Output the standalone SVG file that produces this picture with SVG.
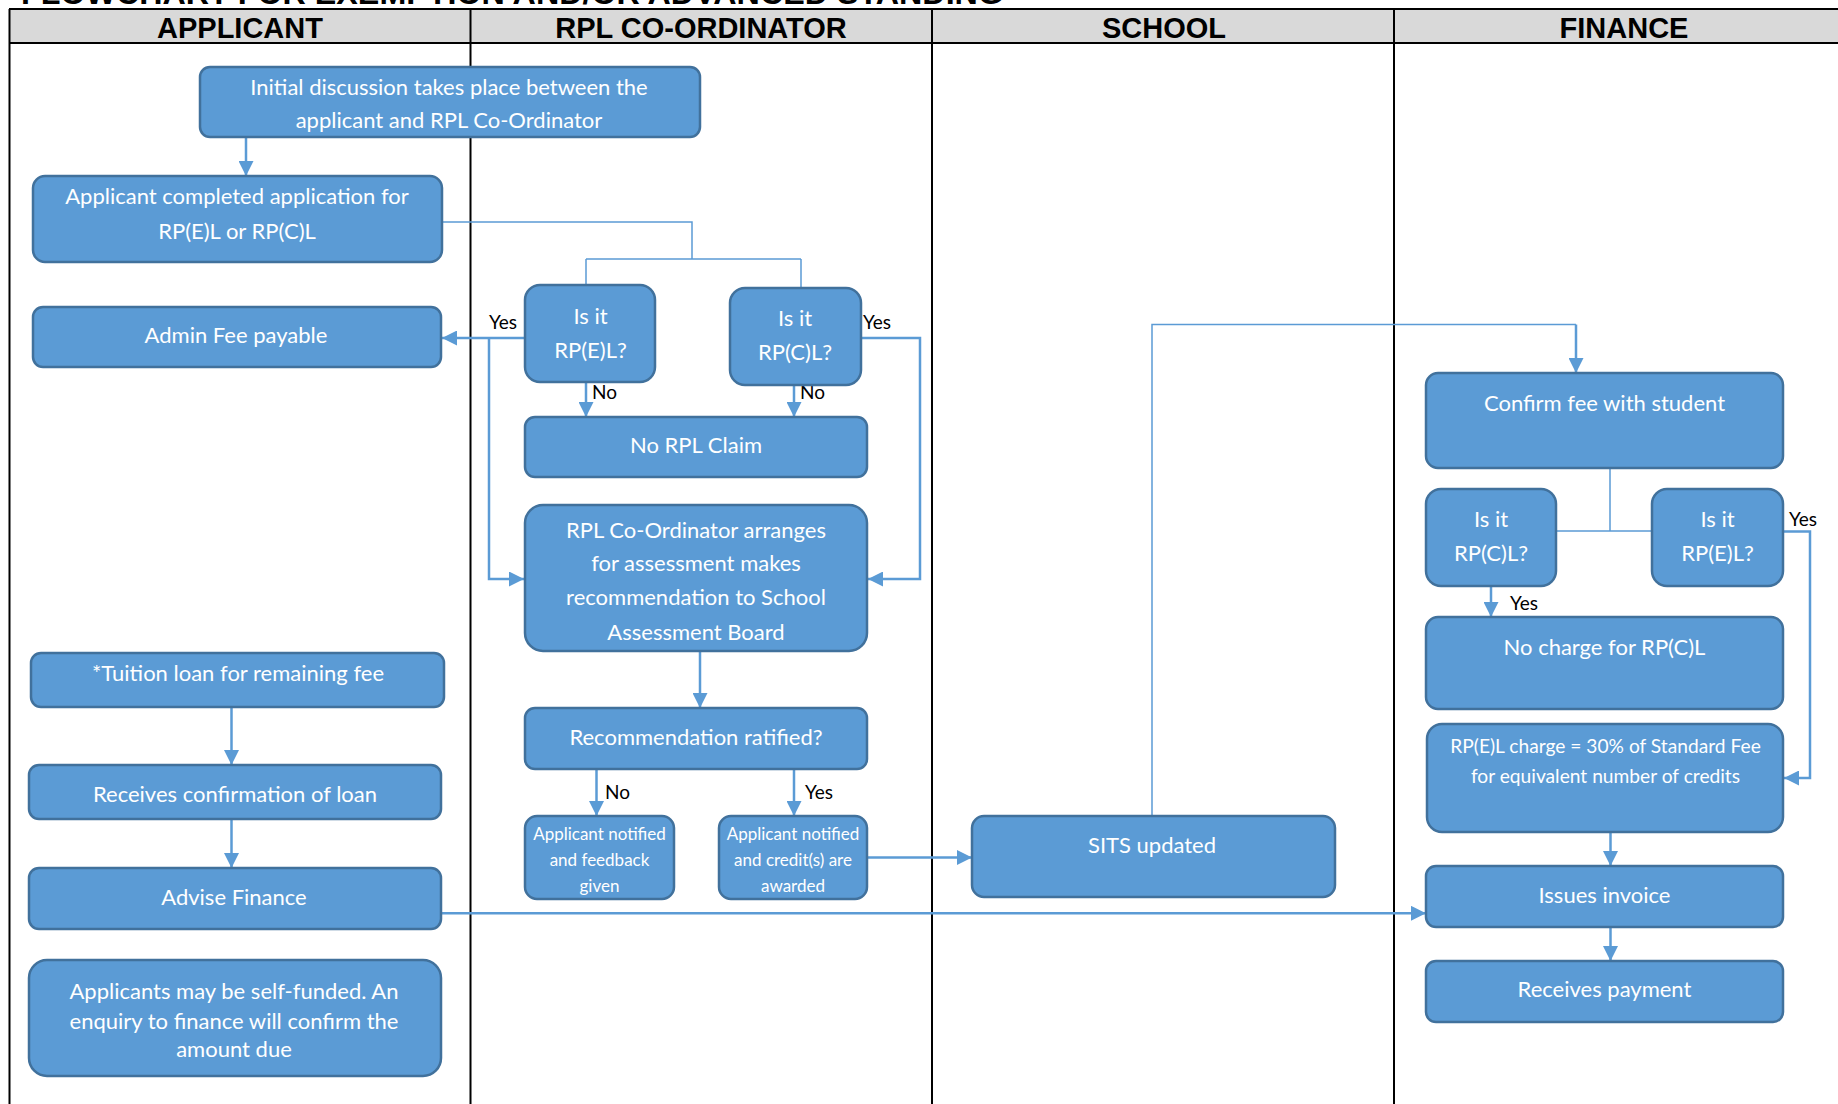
<svg xmlns="http://www.w3.org/2000/svg" width="1838" height="1104" viewBox="0 0 1838 1104">
<defs>
<style>
.box{fill:#5b9bd5;stroke:#41719c;stroke-width:2.5}
.t{font-family:Lato,"Liberation Sans",sans-serif;font-size:22px;fill:#ffffff;text-anchor:middle}
.ts{font-family:Lato,"Liberation Sans",sans-serif;font-size:17px;fill:#ffffff;text-anchor:middle}
.tm{font-family:Lato,"Liberation Sans",sans-serif;font-size:19.2px;fill:#ffffff;text-anchor:middle}
.lbl{font-family:Lato,"Liberation Sans",sans-serif;font-size:19px;fill:#000000}
.hd{font-family:"Liberation Sans",Arial,sans-serif;font-size:29px;font-weight:bold;fill:#000000;text-anchor:middle}
.lane{stroke:#000000;stroke-width:2;fill:none}
.c{stroke:#5b9bd5;stroke-width:2.5;fill:none}
.ct{stroke:#5b9bd5;stroke-width:1.5;fill:none}
.a{marker-end:url(#ah)}
</style>
<marker id="ah" viewBox="0 0 10 10" markerUnits="userSpaceOnUse" markerWidth="15" markerHeight="15" refX="10" refY="5" orient="auto">
<path d="M0,0 L10,5 L0,10 z" fill="#5b9bd5"/>
</marker>
<clipPath id="clipFb"><rect x="525" y="816" width="149" height="81"/></clipPath>
</defs>
<rect width="1838" height="1104" fill="#ffffff"/>

<g id="title">
<text x="21" y="3.5" font-family="'Liberation Sans',Arial,sans-serif" font-size="32" font-weight="bold" textLength="982" lengthAdjust="spacingAndGlyphs">FLOWCHART FOR EXEMPTION AND/OR ADVANCED STANDING</text>
</g>

<g id="lanes">
<rect x="9" y="9" width="1829" height="34" fill="#d9d9d9"/>
<line class="lane" x1="9" y1="9" x2="1838" y2="9"/>
<line class="lane" x1="9" y1="43" x2="1838" y2="43"/>
<line class="lane" x1="9.5" y1="9" x2="9.5" y2="1104"/>
<line class="lane" x1="470.5" y1="9" x2="470.5" y2="1104"/>
<line class="lane" x1="932" y1="9" x2="932" y2="1104"/>
<line class="lane" x1="1394" y1="9" x2="1394" y2="1104"/>
<text class="hd" x="240" y="38">APPLICANT</text>
<text class="hd" x="701" y="38">RPL CO-ORDINATOR</text>
<text class="hd" x="1164" y="38">SCHOOL</text>
<text class="hd" x="1624" y="38">FINANCE</text>
</g>

<g id="connectors">
<path class="c a" d="M246,137 V176"/>
<path class="ct" d="M442,222 H692 V259 M586,259 H801 M586,259 V285 M801,259 V288"/>
<path class="c a" d="M525,338 H442"/>
<path class="c a" d="M489,338 V579 H524"/>
<path class="c a" d="M861,338 H920 V579 H868"/>
<path class="c a" d="M586,382 V417"/>
<path class="c a" d="M794,385 V417"/>
<path class="c a" d="M700,651 V708"/>
<path class="c a" d="M596.5,769 V816"/>
<path class="c a" d="M794,769 V816"/>
<path class="c a" d="M867,857.5 H972"/>
<path class="ct" d="M1152,816 V324.5 H1576"/>
<path class="c a" d="M1576,324.5 V373"/>
<path class="ct" d="M1610,468 V531 M1556,531 H1652"/>
<path class="c a" d="M1783,531.5 H1810 V778 H1784"/>
<path class="c a" d="M1491,586 V617"/>
<path class="c a" d="M1610.5,832 V866"/>
<path class="c a" d="M441,913.3 H1426"/>
<path class="c a" d="M1610.5,927 V961"/>
<path class="c a" d="M231.5,707 V765"/>
<path class="c a" d="M231.5,819 V868"/>
<text class="lbl" x="489" y="329">Yes</text>
<text class="lbl" x="863" y="329">Yes</text>
<text class="lbl" x="592" y="399">No</text>
<text class="lbl" x="800" y="399">No</text>
<text class="lbl" x="605" y="799">No</text>
<text class="lbl" x="805" y="799">Yes</text>
<text class="lbl" x="1510" y="610">Yes</text>
<text class="lbl" x="1789" y="526">Yes</text>
</g>

<g id="n-initial">
<rect class="box" x="200" y="67" width="500" height="70" rx="10"/>
<text class="t" x="449" y="94.5">Initial discussion takes place between the</text>
<text class="t" x="449" y="128">applicant and RPL Co-Ordinator</text>
</g>
<g id="n-application">
<rect class="box" x="33" y="176" width="409" height="86" rx="12"/>
<text class="t" x="237" y="204">Applicant completed application for</text>
<text class="t" x="237" y="238.5">RP(E)L or RP(C)L</text>
</g>
<g id="n-adminfee">
<rect class="box" x="33" y="307" width="408" height="60" rx="10"/>
<text class="t" x="236" y="343">Admin Fee payable</text>
</g>
<g id="n-isit-epl">
<rect class="box" x="525" y="285" width="130" height="97" rx="15"/>
<text class="t" x="590.5" y="323.5">Is it</text>
<text class="t" x="590.5" y="357.5">RP(E)L?</text>
</g>
<g id="n-isit-cpl">
<rect class="box" x="730" y="288" width="131" height="97" rx="15"/>
<text class="t" x="795" y="326">Is it</text>
<text class="t" x="795" y="360">RP(C)L?</text>
</g>
<g id="n-norpl">
<rect class="box" x="525" y="417" width="342" height="60" rx="10"/>
<text class="t" x="696" y="453">No RPL Claim</text>
</g>
<g id="n-arranges">
<rect class="box" x="525" y="505" width="342" height="146" rx="18"/>
<text class="t" x="696" y="537.5">RPL Co-Ordinator arranges</text>
<text class="t" x="696" y="571">for assessment makes</text>
<text class="t" x="696" y="605">recommendation to School</text>
<text class="t" x="696" y="639.5">Assessment Board</text>
</g>
<g id="n-ratified">
<rect class="box" x="525" y="708" width="342" height="61" rx="10"/>
<text class="t" x="696" y="745">Recommendation ratified?</text>
</g>
<g id="n-feedback">
<rect class="box" x="525" y="816" width="149" height="83" rx="12"/>
<g clip-path="url(#clipFb)">
<text class="ts" x="599.5" y="840">Applicant notified</text>
<text class="ts" x="599.5" y="866">and feedback</text>
<text class="ts" x="599.5" y="892">given</text>
</g>
</g>
<g id="n-awarded">
<rect class="box" x="719" y="816" width="148" height="83" rx="12"/>
<text class="ts" x="793" y="840">Applicant notified</text>
<text class="ts" x="793" y="866">and credit(s) are</text>
<text class="ts" x="793" y="892">awarded</text>
</g>
<g id="n-sits">
<rect class="box" x="972" y="816" width="363" height="81" rx="12"/>
<text class="t" x="1152" y="853">SITS updated</text>
</g>
<g id="n-confirm">
<rect class="box" x="1426" y="373" width="357" height="95" rx="12"/>
<text class="t" x="1604.5" y="411">Confirm fee with student</text>
</g>
<g id="n-fin-cpl">
<rect class="box" x="1426" y="489" width="130" height="97" rx="15"/>
<text class="t" x="1491" y="527">Is it</text>
<text class="t" x="1491" y="561">RP(C)L?</text>
</g>
<g id="n-fin-epl">
<rect class="box" x="1652" y="489" width="131" height="97" rx="15"/>
<text class="t" x="1717.5" y="527">Is it</text>
<text class="t" x="1717.5" y="561">RP(E)L?</text>
</g>
<g id="n-nocharge">
<rect class="box" x="1426" y="617" width="357" height="92" rx="12"/>
<text class="t" x="1604.5" y="655">No charge for RP(C)L</text>
</g>
<g id="n-eplcharge">
<rect class="box" x="1427" y="724" width="356" height="108" rx="15"/>
<text class="tm" x="1605.5" y="752.5">RP(E)L charge = 30% of Standard Fee</text>
<text class="tm" x="1605.5" y="782.5">for equivalent number of credits</text>
</g>
<g id="n-invoice">
<rect class="box" x="1426" y="866" width="357" height="61" rx="10"/>
<text class="t" x="1604.5" y="903">Issues invoice</text>
</g>
<g id="n-payment">
<rect class="box" x="1426" y="961" width="357" height="61" rx="10"/>
<text class="t" x="1604.5" y="997">Receives payment</text>
</g>
<g id="n-tuition">
<rect class="box" x="31" y="653" width="413" height="54" rx="10"/>
<text class="t" x="238" y="681">*Tuition loan for remaining fee</text>
</g>
<g id="n-loanconf">
<rect class="box" x="29" y="765" width="412" height="54" rx="10"/>
<text class="t" x="235" y="802">Receives confirmation of loan</text>
</g>
<g id="n-advise">
<rect class="box" x="29" y="868" width="412" height="61" rx="10"/>
<text class="t" x="234" y="904.5">Advise Finance</text>
</g>
<g id="n-selffunded">
<rect class="box" x="29" y="960" width="412" height="116" rx="18"/>
<text class="t" x="234" y="998.5">Applicants may be self-funded. An</text>
<text class="t" x="234" y="1028.5">enquiry to finance will confirm the</text>
<text class="t" x="234" y="1057">amount due</text>
</g>
</svg>
